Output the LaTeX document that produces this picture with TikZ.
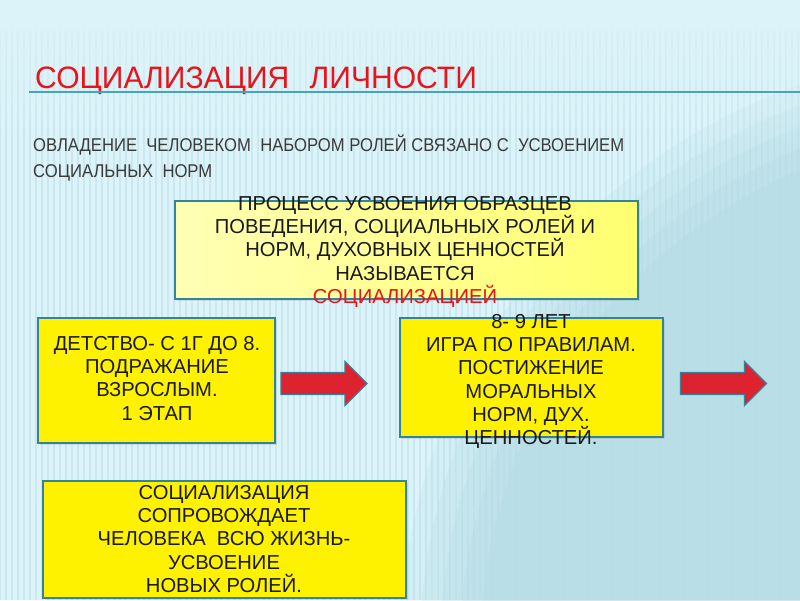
\documentclass[tikz,border=0pt]{standalone}
\usepackage{fontspec}
\setmainfont{Liberation Sans}
\newfontfamily\titlefont[FakeStretch=0.97]{Liberation Sans}
\newfontfamily\subfont[FakeStretch=0.9]{Liberation Sans}
\usetikzlibrary{shapes.arrows,fadings,shadows}
\definecolor{bg}{HTML}{DCF3F9}
\definecolor{stripe}{HTML}{B4DCE7}
\definecolor{darkzone}{HTML}{9ACAD6}
\definecolor{boxline}{HTML}{31849B}
\definecolor{uline}{HTML}{4AA3BA}
\definecolor{titlered}{HTML}{E8141C}
\definecolor{arrowred}{HTML}{DD2230}
\definecolor{subgray}{HTML}{3A3A3A}
\definecolor{paleyellowL}{HTML}{FFFFB4}
\definecolor{paleyellowR}{HTML}{FFFF70}
\tikzfading[name=fadedown, top color=transparent!0, bottom color=transparent!100]
\begin{document}
\begin{tikzpicture}[x=1pt,y=-1pt,
  yellowbox/.style={rectangle, draw=boxline, line width=1.4pt, fill=yellow, inner sep=0pt,
    drop shadow={opacity=0.18, shadow xshift=1.5pt, shadow yshift=-2pt}},
  boxtext/.style={inner sep=0pt, align=center, text=black!90,
    font=\fontsize{20.2}{23.3}\selectfont, anchor=north},
  redarrow/.style={single arrow, draw=boxline, line width=1.2pt, fill=arrowred,
    inner sep=0pt, inner ysep=10.5pt, single arrow head extend=11pt,
    minimum height=86pt, anchor=center}
]
\useasboundingbox (0,0) rectangle (800,600);
% background
\fill[bg] (0,0) rectangle (800,600);
\foreach \r in {600,580,560,540,520} {
  \fill[darkzone, opacity=0.12] (1000,650) circle (\r);
}
\foreach \x in {0,6,...,800} {
  \draw[stripe, line width=2.2pt, opacity=0.45] (\x,30) -- (\x,600);
}
\fill[bg, path fading=fadedown] (0,0) rectangle (800,150);

% title
\node[anchor=base west, inner sep=0pt, text=titlered,
  font=\titlefont\fontsize{31}{31}\selectfont] (title) at (35,88)
  {СОЦИАЛИЗАЦИЯ\hspace{12pt} ЛИЧНОСТИ};
\coordinate (ulA) at (29,92);
\coordinate (ulB) at (800,92);
\draw[uline, line width=1.6pt] (ulA) -- (ulB);

% subtitle
\node[anchor=north west, inner sep=0pt, align=left, text=subgray,
  font=\subfont\fontsize{18.5}{26}\selectfont] (sub) at (33,135)
  {ОВЛАДЕНИЕ\ \ ЧЕЛОВЕКОМ\ \ НАБОРОМ РОЛЕЙ СВЯЗАНО С\ \ УСВОЕНИЕМ\\СОЦИАЛЬНЫХ\ \ НОРМ};

% boxes
\node[yellowbox, left color=paleyellowL, right color=paleyellowR,
  minimum width=463pt, minimum height=98pt] (b1) at (406.5,250) {};
\node[yellowbox, minimum width=237pt, minimum height=125pt] (b2) at (156.5,380.5) {};
\node[yellowbox, minimum width=263pt, minimum height=119pt] (b3) at (531.5,377.5) {};
\node[yellowbox, minimum width=363pt, minimum height=117pt] (b4) at (224.5,539.5) {};

% arrows
\node[redarrow] (a1) at (318.5,383.5) {};
\node[redarrow] (a2) at (718,383.5) {};

% texts
\node[boxtext] (t1) at (405,196)
  {ПРОЦЕСС УСВОЕНИЯ ОБРАЗЦЕВ\\ПОВЕДЕНИЯ, СОЦИАЛЬНЫХ РОЛЕЙ И\\НОРМ, ДУХОВНЫХ ЦЕННОСТЕЙ\\НАЗЫВАЕТСЯ\\\textcolor{titlered}{СОЦИАЛИЗАЦИЕЙ}};
\node[boxtext] (t2) at (157,336)
  {ДЕТСТВО- С 1Г ДО 8.\\ПОДРАЖАНИЕ\\ВЗРОСЛЫМ.\\1 ЭТАП};
\node[boxtext] (t3) at (531,314)
  {8- 9 ЛЕТ\\ИГРА ПО ПРАВИЛАМ.\\ПОСТИЖЕНИЕ\\МОРАЛЬНЫХ\\НОРМ, ДУХ.\\ЦЕННОСТЕЙ.};
\node[boxtext] (t4) at (224,485)
  {СОЦИАЛИЗАЦИЯ\\СОПРОВОЖДАЕТ\\ЧЕЛОВЕКА\ \ ВСЮ ЖИЗНЬ-\\УСВОЕНИЕ\\НОВЫХ РОЛЕЙ.};
\end{tikzpicture}
\end{document}
